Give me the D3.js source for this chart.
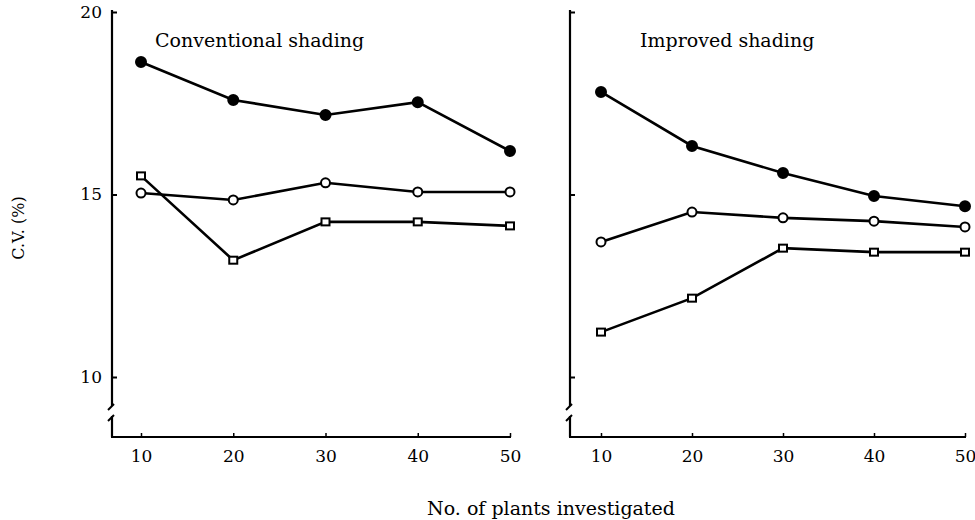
<!DOCTYPE html>
<html>
<head>
<meta charset="utf-8">
<script src="https://cdn.jsdelivr.net/npm/d3@7"></script>
<style>
body { margin: 0; background: #fff; }
svg { font-family: "DejaVu Serif", serif; }
</style>
</head>
<body>
<svg id="viz" width="975" height="520"></svg>
<script>
// values
const plants = [10, 20, 30, 40, 50]
const yTicks = [10, 15, 20]

const convFilled = [18.63, 17.59, 17.18, 17.53, 16.19]
const convOpen = [15.04, 14.85, 15.32, 15.07, 15.07]
const convSquare = [15.51, 13.2, 14.25, 14.25, 14.14]

const impFilled = [17.81, 16.33, 15.59, 14.96, 14.68]
const impOpen = [13.7, 14.52, 14.36, 14.27, 14.11]
const impSquare = [11.23, 12.16, 13.53, 13.42, 13.42]

const panels = [
    { title: "Conventional shading", axisX: 112, x0: 141, x1: 510, end: 511, titleX: 155, labels: true,
      series: [{ v: convFilled, m: "filled" }, { v: convOpen, m: "open" }, { v: convSquare, m: "square" }] },
    { title: "Improved shading", axisX: 570, x0: 601, x1: 965, end: 966, titleX: 640, labels: false,
      series: [{ v: impFilled, m: "filled" }, { v: impOpen, m: "open" }, { v: impSquare, m: "square" }] }
]

const yBottom = 437
const y = d3.scaleLinear().domain([10, 20]).range([377, 12])
const font = "DejaVu Serif, serif"

const svg = d3.select("#viz")

panels.forEach(p => {
    const x = d3.scaleLinear().domain([10, 50]).range([p.x0, p.x1])
    const g = svg.append("g")

    // y axis with break
    const ya = g.append("g")
        .attr("transform", `translate(${p.axisX},0)`)
        .call(d3.axisLeft(y).tickValues(yTicks).tickSizeInner(-5).tickSizeOuter(0)
            .tickFormat(p.labels ? d3.format("d") : () => ""))
    ya.select(".domain").remove()
    ya.selectAll(".tick line").attr("stroke", "#000").attr("stroke-width", 2)
    ya.selectAll(".tick text").attr("x", -10).attr("font-size", 17)
        .attr("font-family", font).attr("fill", "#000")

    g.append("line").attr("x1", p.axisX).attr("x2", p.axisX).attr("y1", 10).attr("y2", 406)
        .attr("stroke", "#000").attr("stroke-width", 2.2)
    g.append("line").attr("x1", p.axisX).attr("x2", p.axisX).attr("y1", 416).attr("y2", yBottom)
        .attr("stroke", "#000").attr("stroke-width", 2.2)
    g.append("line").attr("x1", p.axisX - 4).attr("y1", 410).attr("x2", p.axisX + 2).attr("y2", 404)
        .attr("stroke", "#000").attr("stroke-width", 2)
    g.append("line").attr("x1", p.axisX - 4).attr("y1", 421).attr("x2", p.axisX + 2).attr("y2", 415)
        .attr("stroke", "#000").attr("stroke-width", 2)

    // x axis
    const xa = g.append("g")
        .attr("transform", `translate(0,${yBottom})`)
        .call(d3.axisBottom(x).tickValues(plants).tickSizeInner(-4).tickSizeOuter(0).tickFormat(d3.format("d")))
    xa.select(".domain").remove()
    xa.selectAll(".tick line").attr("stroke", "#000").attr("stroke-width", 1.5)
    xa.selectAll(".tick text").attr("y", 13).attr("font-size", 17)
        .attr("font-family", font).attr("fill", "#000")
    g.append("line").attr("x1", p.axisX - 1).attr("x2", p.end).attr("y1", yBottom).attr("y2", yBottom)
        .attr("stroke", "#000").attr("stroke-width", 2)

    g.append("text").attr("x", p.titleX).attr("y", 47).attr("font-size", 19).text(p.title)

    const line = d3.line().x((d, i) => x(plants[i])).y(d => y(d))

    p.series.forEach(s => {
        g.append("path").datum(s.v).attr("d", line)
            .attr("fill", "none").attr("stroke", "#000").attr("stroke-width", 2.6)
        const pts = g.selectAll(null).data(s.v)
        if (s.m === "square") {
            pts.join("rect")
                .attr("x", (d, i) => x(plants[i]) - 4).attr("y", d => y(d) - 3.5)
                .attr("width", 8).attr("height", 7)
                .attr("fill", "#fff").attr("stroke", "#000").attr("stroke-width", 2)
        } else {
            pts.join("circle")
                .attr("cx", (d, i) => x(plants[i])).attr("cy", d => y(d))
                .attr("r", s.m === "filled" ? 5 : 4.5)
                .attr("fill", s.m === "filled" ? "#000" : "#fff")
                .attr("stroke", "#000").attr("stroke-width", 2)
        }
    })
})

svg.append("text").attr("x", 551).attr("y", 515).attr("text-anchor", "middle")
    .attr("font-size", 19).text("No. of plants investigated")
svg.append("text").attr("transform", "translate(24,228) rotate(-90)").attr("text-anchor", "middle")
    .attr("font-size", 16).text("C.V. (%)")
</script>
</body>
</html>
